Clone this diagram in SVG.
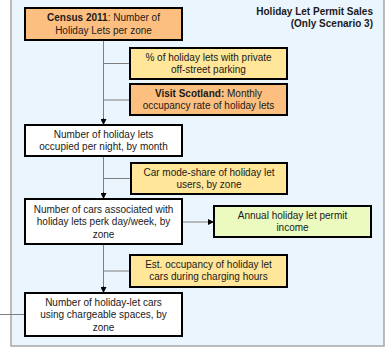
<svg xmlns="http://www.w3.org/2000/svg" width="387" height="350" viewBox="0 0 387 350">
<defs>
<style>
text{font-family:"Liberation Sans",Arial,sans-serif;font-size:10px;fill:#1a1a1a;text-anchor:middle}
.b{font-weight:bold}
.box{stroke:#000;stroke-width:2}
.orange{fill:#FDBF7F}
.yellow{fill:#FFE699}
.white{fill:#fff}
.green{fill:#EBFABF}
.ln{stroke:#7f7f7f;stroke-width:1;fill:none}
.ar{stroke:#333;stroke-width:1;fill:none;marker-end:url(#ah)}
</style>
<marker id="ah" viewBox="0 0 8 8" refX="8" refY="4" markerWidth="6" markerHeight="6" orient="auto" markerUnits="userSpaceOnUse">
<path d="M0,0 L8,4 L0,8 z" fill="#000"/>
</marker>
</defs>
<rect x="11" y="-1" width="373" height="347" fill="#EAF5FD" stroke="#a6a6a6" stroke-width="1.5"/>
<g id="title">
<text class="b" x="373" y="15" style="text-anchor:end">Holiday Let Permit Sales</text>
<text class="b" x="373" y="27" style="text-anchor:end">(Only Scenario 3)</text>
</g>
<g id="connectors">
<line class="ln" x1="103.5" y1="40" x2="103.5" y2="118"/>
<path class="ar" d="M103.5,118 L103.5,125"/>
<line class="ln" x1="103.5" y1="63.5" x2="130" y2="63.5"/>
<line class="ln" x1="103.5" y1="100" x2="130" y2="100"/>
<line class="ln" x1="103.5" y1="156" x2="103.5" y2="192"/>
<path class="ar" d="M103.5,192 L103.5,199"/>
<line class="ln" x1="103.5" y1="178.5" x2="131" y2="178.5"/>
<path class="ar" d="M182,222 L214,222" style="stroke:#7f7f7f"/>
<line class="ln" x1="103.5" y1="244" x2="103.5" y2="286"/>
<path class="ar" d="M103.5,286 L103.5,293"/>
<line class="ln" x1="103.5" y1="271" x2="130" y2="271"/>
<line class="ln" x1="0" y1="314.5" x2="25" y2="314.5"/>
</g>
<g id="census">
<rect class="box orange" x="25" y="8" width="157" height="32"/>
<text x="103.5" y="21"><tspan class="b">Census 2011</tspan>: Number of</text>
<text x="103.5" y="34">Holiday Lets per zone</text>
</g>
<g id="private-parking">
<rect class="box yellow" x="130" y="48" width="157" height="31"/>
<text x="208.5" y="61">% of holiday lets with private</text>
<text x="208.5" y="73">off-street parking</text>
</g>
<g id="visit-scotland">
<rect class="box orange" x="130" y="84" width="157" height="31"/>
<text x="208.5" y="97"><tspan class="b">Visit Scotland:</tspan> Monthly</text>
<text x="208.5" y="109">occupancy rate of holiday lets</text>
</g>
<g id="occupied">
<rect class="box white" x="25" y="125" width="157" height="31"/>
<text x="103.5" y="138">Number of holiday lets</text>
<text x="103.5" y="150">occupied per night, by month</text>
</g>
<g id="mode-share">
<rect class="box yellow" x="131" y="163" width="156" height="31"/>
<text x="209" y="176">Car mode-share of holiday let</text>
<text x="209" y="188">users, by zone</text>
</g>
<g id="cars">
<rect class="box white" x="25" y="199" width="157" height="45"/>
<text x="103.5" y="213">Number of cars associated with</text>
<text x="103.5" y="225">holiday lets perk day/week, by</text>
<text x="103.5" y="238">zone</text>
</g>
<g id="annual-income">
<rect class="box green" x="214" y="206" width="157" height="31"/>
<text x="292.5" y="219">Annual holiday let permit</text>
<text x="292.5" y="231">income</text>
</g>
<g id="est-occupancy">
<rect class="box yellow" x="130" y="255" width="157" height="32"/>
<text x="208.5" y="268">Est. occupancy of holiday let</text>
<text x="208.5" y="280">cars during charging hours</text>
</g>
<g id="chargeable">
<rect class="box white" x="25" y="293" width="157" height="43"/>
<text x="103.5" y="306">Number of holiday-let cars</text>
<text x="103.5" y="318">using chargeable spaces, by</text>
<text x="103.5" y="331">zone</text>
</g>
</svg>
